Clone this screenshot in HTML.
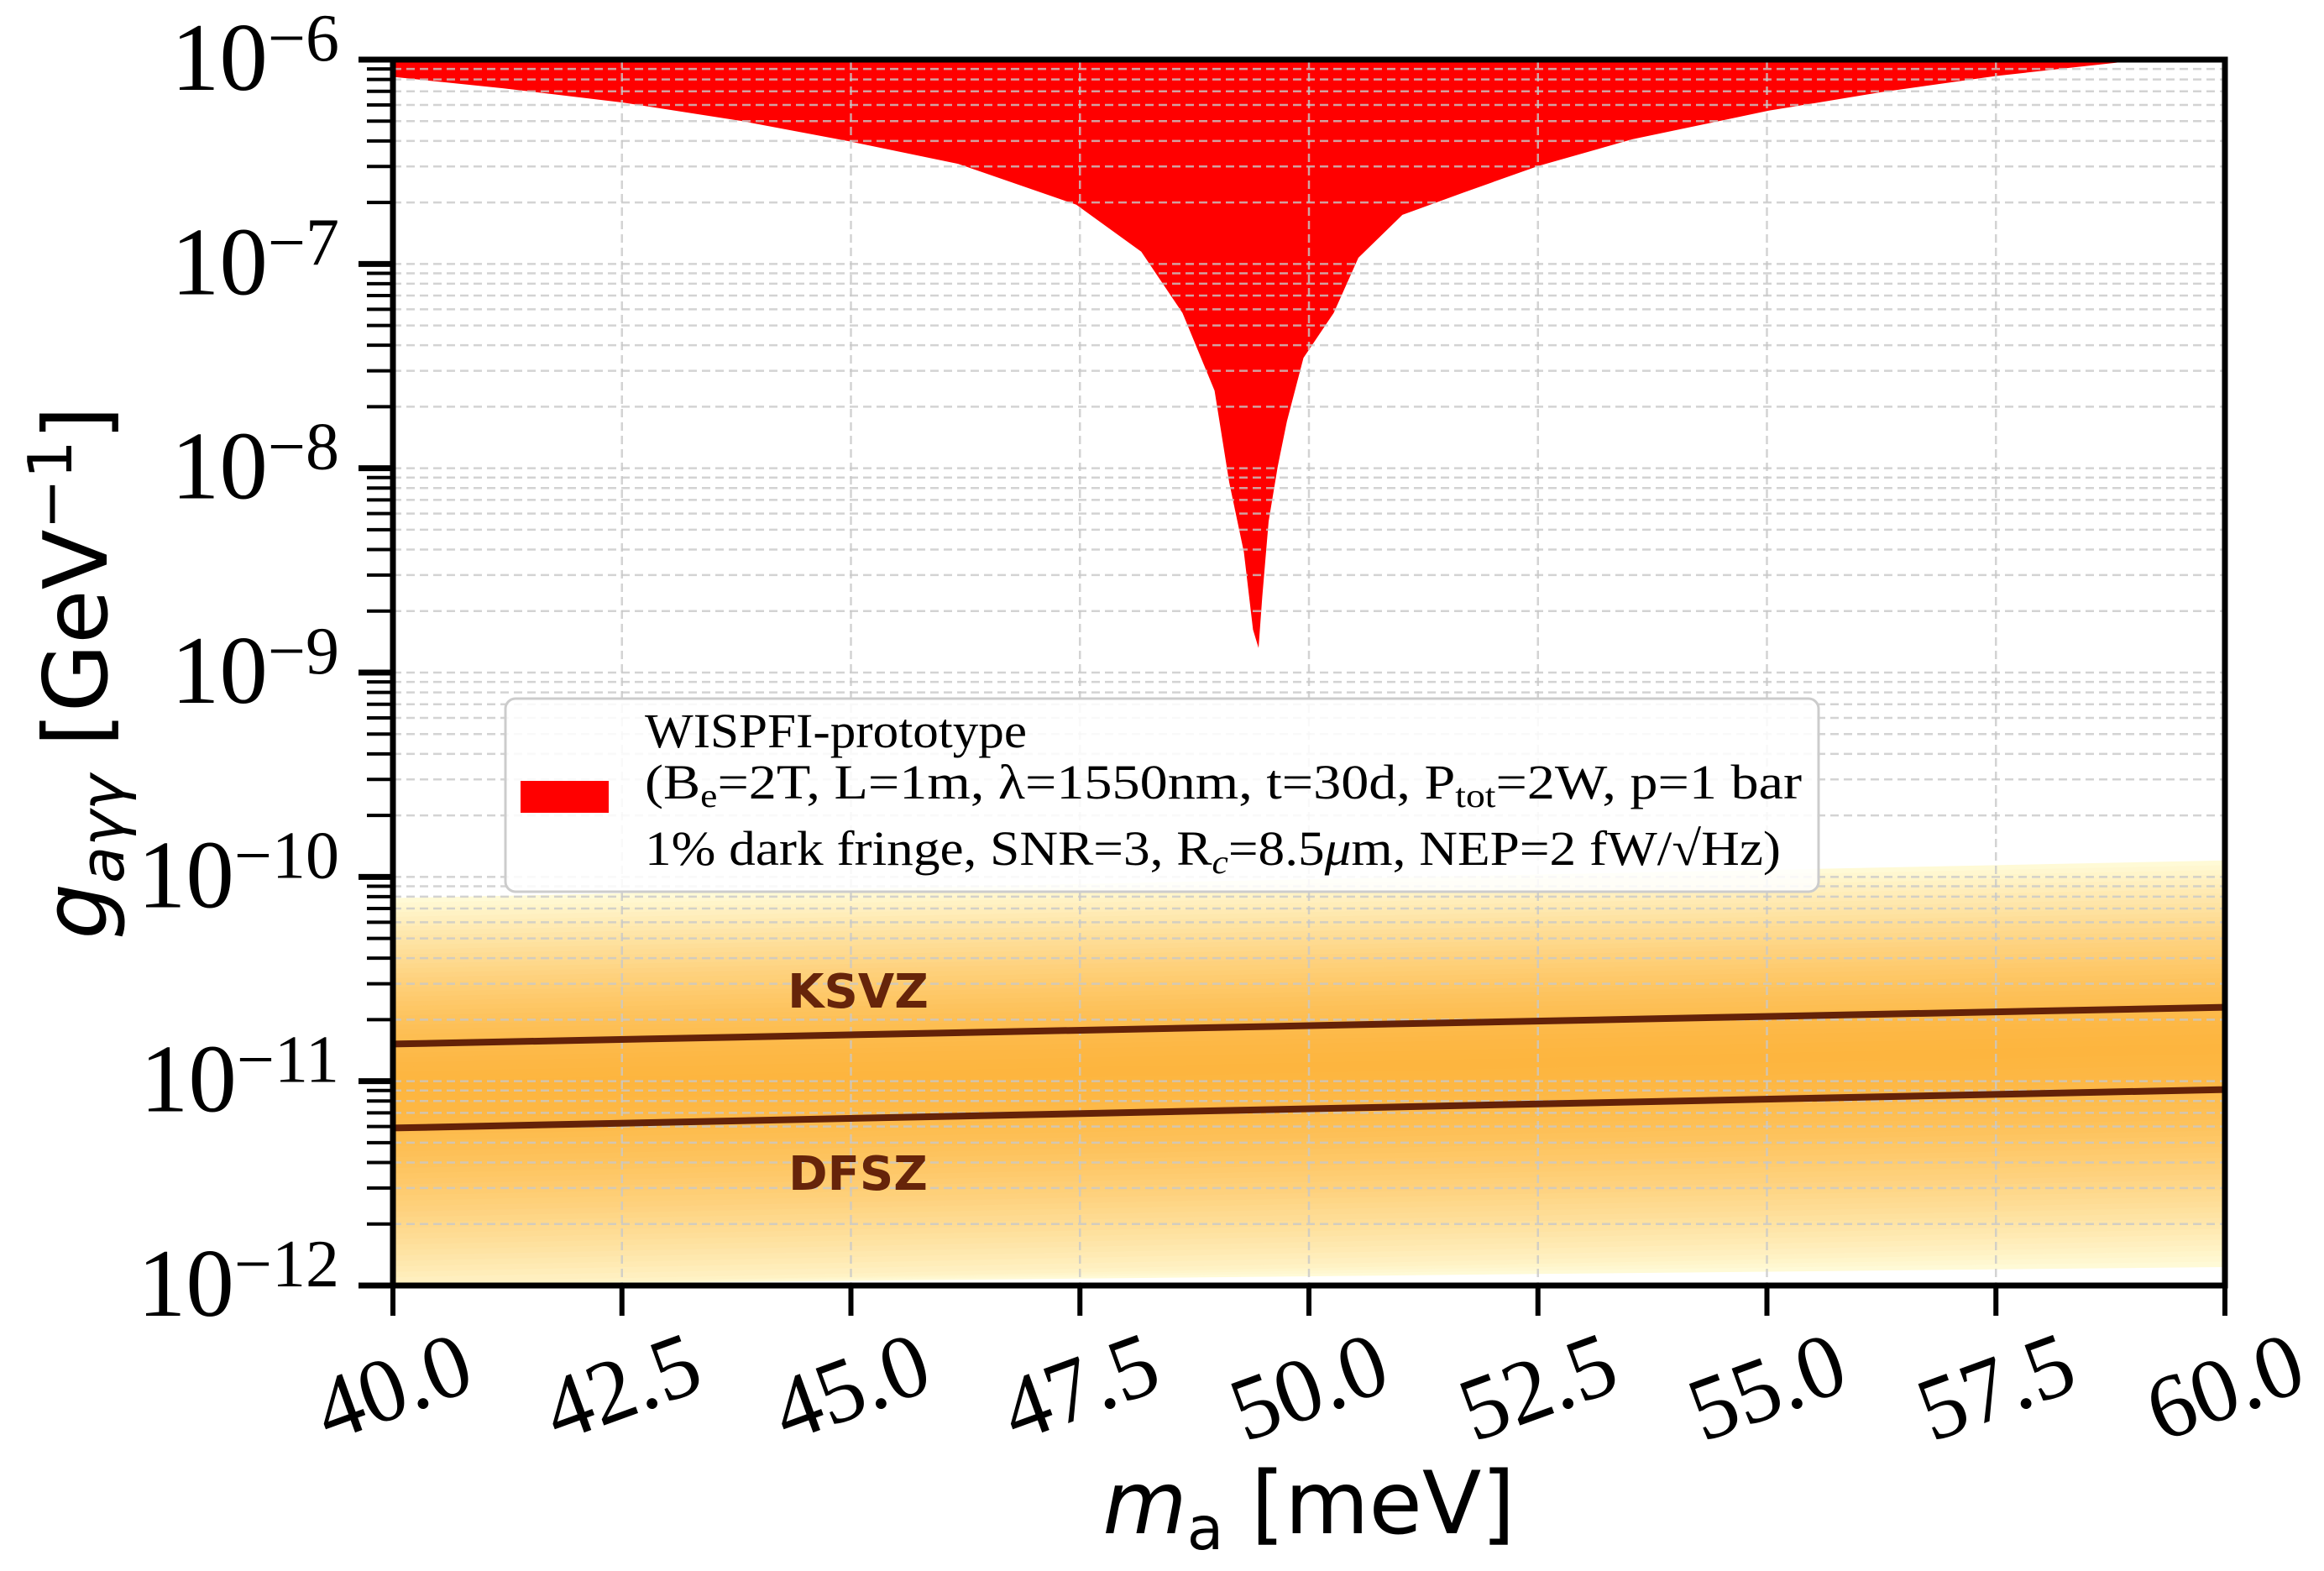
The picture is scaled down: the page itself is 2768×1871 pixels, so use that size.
<!DOCTYPE html>
<html><head><meta charset="utf-8"><style>
html,body{margin:0;padding:0;background:#fff;}
svg{display:block;}
</style></head><body>
<svg id="chart" width="2768" height="1871" viewBox="0 0 2768 1871" xmlns="http://www.w3.org/2000/svg">
<g id="band"></g>
<g id="exclusion"></g>
<g id="grid"></g>
<g id="models"></g>
<text x="1022" y="1200" font-family="DejaVu Sans, sans-serif" font-weight="bold" font-size="56" fill="#66240a" text-anchor="middle">KSVZ</text>
<text x="1022" y="1417" font-family="DejaVu Sans, sans-serif" font-weight="bold" font-size="56" fill="#66240a" text-anchor="middle">DFSZ</text>
<g id="legend">
  <rect x="602" y="832" width="1564" height="230" rx="12" fill="#fff" fill-opacity="0.85" stroke="#cccccc" stroke-width="3"/>
  <rect x="620" y="930" width="105" height="38" fill="#ff0000"/>
  <g font-family="Liberation Serif, DejaVu Serif, serif" font-size="58" fill="#000">
    <text x="768" y="890" textLength="455" lengthAdjust="spacingAndGlyphs">WISPFI-prototype</text>
    <text x="768" y="951" textLength="1378" lengthAdjust="spacingAndGlyphs">(B<tspan font-size="40" dy="10">e</tspan><tspan dy="-10">=2T, L=1m, λ=1550nm, t=30d, P</tspan><tspan font-size="40" dy="10">tot</tspan><tspan dy="-10">=2W, p=1 bar</tspan></text>
    <text x="768" y="1030" textLength="1353" lengthAdjust="spacingAndGlyphs">1% dark fringe, SNR=3, R<tspan font-size="40" dy="10" font-style="italic">c</tspan><tspan dy="-10">=8.5</tspan><tspan font-style="italic">μ</tspan><tspan>m, NEP=2 fW/√Hz)</tspan></text>
  </g>
</g>
<g id="axes"></g>
<text transform="translate(127,801) rotate(-90)" text-anchor="middle" font-family="DejaVu Sans, sans-serif" font-size="105" fill="#000"><tspan font-style="italic">g</tspan><tspan font-size="72" dy="20" font-style="italic">aγγ</tspan><tspan dy="-20"> [GeV</tspan><tspan font-size="72" dy="-42">−1</tspan><tspan dy="42">]</tspan></text>
<text x="1559" y="1826" text-anchor="middle" font-family="DejaVu Sans, sans-serif" font-size="103" fill="#000"><tspan font-style="italic">m</tspan><tspan font-size="71" dy="19">a</tspan><tspan dy="-19"> [meV]</tspan></text>
</svg>
<script>
// ---- data ----
const xTicks = [40.0, 42.5, 45.0, 47.5, 50.0, 52.5, 55.0, 57.5, 60.0];
const xTickLabels = ["40.0","42.5","45.0","47.5","50.0","52.5","55.0","57.5","60.0"];
const yDecades = [-12, -11, -10, -9, -8, -7, -6];
const yTickLabels = ["−12","−11","−10","−9","−8","−7","−6"];
const limitMass = [40.0, 40.03, 41.2, 42.51, 43.8, 44.98, 46.17, 47.46, 48.17, 48.62, 48.97, 49.13, 49.29, 49.39, 49.45, 49.49, 49.56, 49.66, 49.76, 49.94, 50.27, 50.54, 51.02, 51.69, 52.51, 53.53, 55.02, 56.24, 57.5, 58.82, 58.95, 60.0];
const limitLogG = [-6.08, -6.086, -6.14, -6.21, -6.30, -6.40, -6.51, -6.71, -6.94, -7.24, -7.62, -8.07, -8.41, -8.79, -8.88, -8.63, -8.26, -7.99, -7.77, -7.46, -7.24, -6.97, -6.76, -6.65, -6.52, -6.39, -6.25, -6.16, -6.08, -6.015, -6.0, -6.0];
const modelMass = [40.0, 60.0];
const ksvzG = [1.52e-11, 2.3e-11];
const dfszG = [5.9e-12, 9.1e-12];
const bandUp = 0.92;
const bandDown = 1.07;

// ---- axes ----
const L=468, R=2650, T=71, B=1531;
const xMin=40, xMax=60, yMinLog=-12, yMaxLog=-6;
function X(m){ return L + (m-xMin)/(xMax-xMin)*(R-L); }
function YL(lg){ return T + (yMaxLog-lg)/(yMaxLog-yMinLog)*(B-T); }
function Y(g){ return YL(Math.log10(g)); }
const NS="http://www.w3.org/2000/svg";
function mk(tag, attrs, parent){ const e=document.createElementNS(NS,tag); for(const k in attrs) e.setAttribute(k,attrs[k]); parent.appendChild(e); return e; }

// band
const band=document.getElementById('band');
const c0=[255,250,214], c1=[253,181,63];
const N=40;
for(let i=N;i>=1;i--){
  const t=i/N;
  const f=Math.pow(t,1.6);
  const col=c0.map((v,j)=>Math.round(c1[j]+(v-c1[j])*f));
  let up=[], dn=[];
  for(let k=0;k<modelMass.length;k++){
    const cl=(Math.log10(ksvzG[k])+Math.log10(dfszG[k]))/2;
    up.push([X(modelMass[k]), Math.max(T,YL(cl+bandUp*t))]);
    dn.push([X(modelMass[k]), Math.min(B,YL(cl-bandDown*t))]);
  }
  const pts=up.concat(dn.reverse()).map(p=>p.join(',')).join(' ');
  const p=mk('polygon',{points:pts,fill:`rgb(${col})`},band);
  
  
}

// exclusion region
const ex=document.getElementById('exclusion');
let d=`M${X(limitMass[0])},${T}`;
for(let i=0;i<limitMass.length;i++) d+=` L${X(limitMass[i]).toFixed(1)},${Math.max(T,YL(limitLogG[i])).toFixed(1)}`;
d+=` L${X(limitMass[limitMass.length-1])},${T} Z`;
const ep=mk('path',{d:d,fill:'#ff0000'},ex);



// grid
const grid=document.getElementById('grid');
const gs={stroke:'#c8c8c8','stroke-width':2.5,'stroke-dasharray':'10,6','stroke-opacity':0.8};
for(let i=1;i<xTicks.length-1;i++){
  const l=mk('line',Object.assign({x1:X(xTicks[i]),x2:X(xTicks[i]),y1:T,y2:B},gs),grid);
  
  
}
for(let di=0;di<yDecades.length-1;di++){
  for(let m=1;m<=9;m++){
    const lg=yDecades[di]+Math.log10(m);
    if(m===1 && di===0) continue;
    const y=YL(lg);
    const l=mk('line',Object.assign({x1:L,x2:R,y1:y,y2:y},gs),grid);
    
    
  }
}

// model lines
const models=document.getElementById('models');
[[ksvzG,'ksvz-line'],[dfszG,'dfsz-line']].forEach(([arr,name])=>{
  const pts=modelMass.map((m,k)=>X(m)+','+Y(arr[k])).join(' ');
  const l=mk('polyline',{points:pts,fill:'none',stroke:'#642208','stroke-width':8},models);
  
  
});

// axes
const ax=document.getElementById('axes');
const sp=mk('rect',{x:L,y:T,width:R-L,height:B-T,fill:'none',stroke:'#000','stroke-width':7},ax);


xTicks.forEach((v,i)=>{
  const x=X(v);
  const t=mk('line',{x1:x,x2:x,y1:B,y2:B+36,stroke:'#000','stroke-width':6},ax);
  
  
  const tx=mk('text',{x:0,y:0,transform:`translate(${x},${1652}) rotate(-20)`,'text-anchor':'middle','dominant-baseline':'central','font-family':'Liberation Serif, serif','font-size':108,fill:'#000'},ax);
  tx.textContent=xTickLabels[i];
  
  
});
yDecades.forEach((dv,i)=>{
  const y=YL(dv);
  const t=mk('line',{x1:L-41,x2:L,y1:y,y2:y,stroke:'#000','stroke-width':7},ax);
  
  
  if(i<yDecades.length-1){
    for(let m=2;m<=9;m++){
      const yy=YL(dv+Math.log10(m));
      const mt=mk('line',{x1:L-31,x2:L,y1:yy,y2:yy,stroke:'#000','stroke-width':4},ax);
      
      
    }
  }
  const tx=mk('text',{x:404,y:y+36,'text-anchor':'end','font-family':'Liberation Serif, serif','font-size':115,fill:'#000'},ax);
  const a=mk('tspan',{},tx); a.textContent='10';
  const b=mk('tspan',{'font-size':80,dy:-35},tx); b.textContent=yTickLabels[i];
  
  
});
</script>
</body></html>
